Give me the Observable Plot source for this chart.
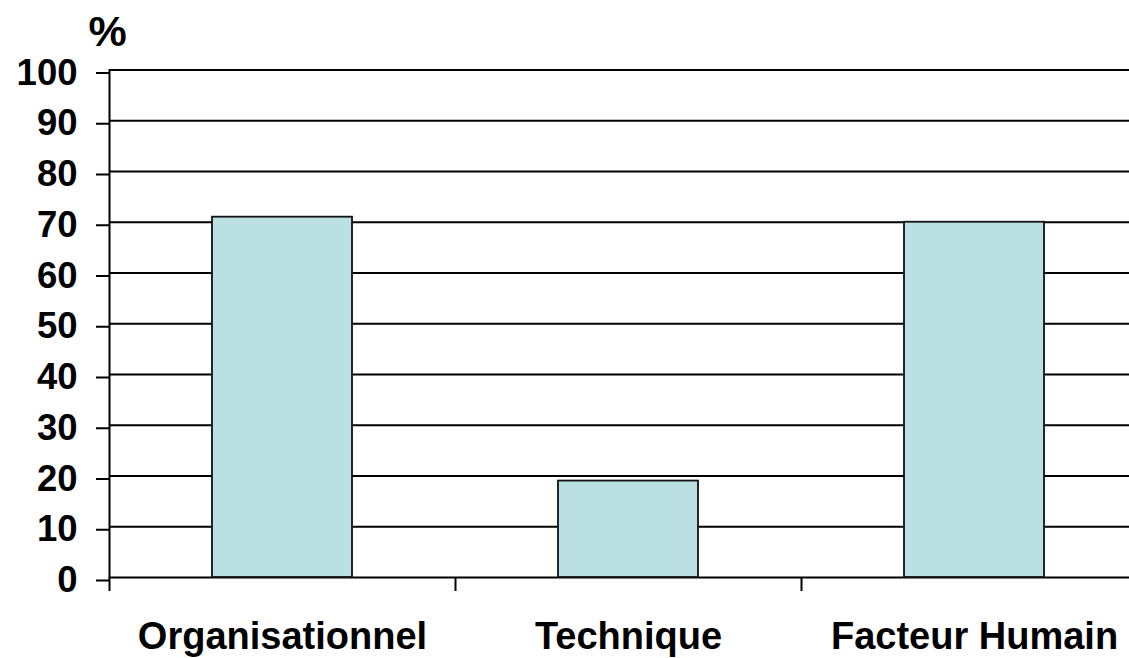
<!DOCTYPE html>
<html>
<head>
<meta charset="utf-8">
<script src="https://cdn.jsdelivr.net/npm/d3@7"></script>
<script src="https://cdn.jsdelivr.net/npm/@observablehq/plot@0.6"></script>
<style>
  html, body { margin: 0; padding: 0; background: #fff; overflow: hidden; }
  #chart { width: 1129px; height: 658px; }
</style>
</head>
<body>
<div id="chart"></div>
<script>
const categories = ["Organisationnel", "Technique", "Facteur Humain"];
const values = [71, 19, 70];
const yTicks = [0, 10, 20, 30, 40, 50, 60, 70, 80, 90, 100];
const unitLabel = "%";

const data = categories.map((c, i) => ({category: c, value: values[i]}));

const chart = Plot.plot({
  width: 1129,
  height: 658,
  marginLeft: 109,
  marginRight: -18,
  marginTop: 69.5,
  marginBottom: 81,
  style: {fontFamily: "'Liberation Sans', Arial, sans-serif", background: "#fff", maxWidth: "none"},
  x: {domain: categories, paddingInner: 0.595, paddingOuter: 0.2975, align: 0.5, label: null},
  y: {domain: [0, 100], label: null},
  marks: [
    Plot.ruleY(yTicks, {y: d => d, stroke: "#000", strokeWidth: 1.8}),
    Plot.barY(data, {x: "category", y: "value", fill: "#bbe0e3", stroke: "#111", strokeWidth: 1.8}),
    Plot.frame({anchor: "left", stroke: "#000", strokeWidth: 2}),
    Plot.ruleX(categories, {x: d => d, dx: -173, y1: 0, y2: 0, insetBottom: -14, stroke: "#000", strokeWidth: 2}),
    Plot.axisY(yTicks, {tickSize: 13, tickPadding: 19, fontSize: 36.5, fontWeight: "bold", dy: 3, stroke: "#000", strokeWidth: 2, fill: "#000"}),
    Plot.axisX({tickSize: 0, tickPadding: 45, fontSize: 38, fontWeight: "bold", fill: "#000"}),
    Plot.text([unitLabel], {frameAnchor: "top-left", text: d => d, dx: -2, dy: -24, lineAnchor: "bottom", textAnchor: "middle", fontSize: 43, fontWeight: "bold", fill: "#000"})
  ]
});
document.getElementById("chart").appendChild(chart);
</script>
</body>
</html>
